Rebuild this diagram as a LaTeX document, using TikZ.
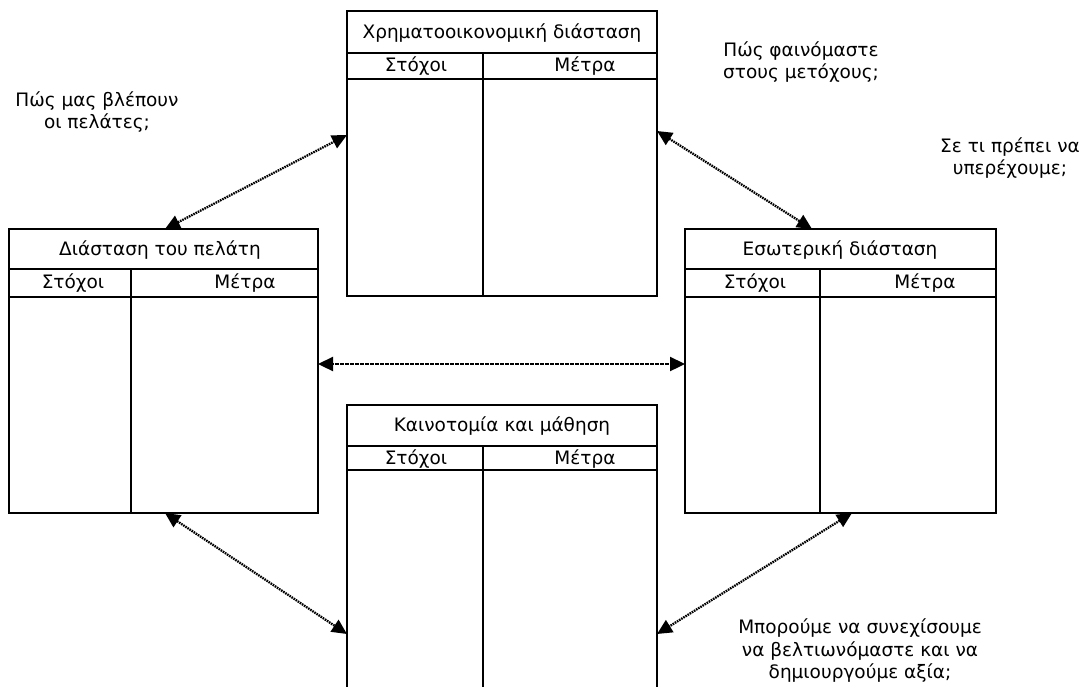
\documentclass[tikz,border=0pt]{standalone}
\usepackage{fontspec}
\setmainfont{DejaVu Sans}
\usetikzlibrary{arrows.meta,calc}
\tikzset{
  box/.style={draw,line width=1.5pt,inner sep=0pt,outer sep=0pt,anchor=north west},
  rule/.style={line width=1.5pt},
  lbl/.style={inner sep=0pt,font=\fontsize{18.5}{21}\selectfont},
  note/.style={inner sep=0pt,align=center,font=\fontsize{18.5}{22.5}\selectfont},
  link/.style={line width=2.3pt,dash pattern=on 1.6pt off 0.9pt,
    {Triangle[length=15pt,width=14pt]}-{Triangle[length=15pt,width=14pt]}},
}
\begin{document}
\begin{tikzpicture}[x=1pt,y=-1pt]
\clip (0,0) rectangle (1081,686);
\useasboundingbox (0,0) rectangle (1081,686);
% Top box: Finance
\node[box,minimum width=310pt,minimum height=285pt] (fin) at (347,11) {};
\draw[rule] (347,53) -- (657,53);
\draw[rule] (347,79) -- (657,79);
\draw[rule] (483,53) -- (483,296);
\node[lbl] (finT) at (502,33) {Χρηματοοικονομική διάσταση};
\node[lbl] (finS) at (416,66) {Στόχοι};
\node[lbl] (finM) at (585,66) {Μέτρα};
% Left box: Customer
\node[box,minimum width=309pt,minimum height=284pt] (cus) at (9,229) {};
\draw[rule] (9,269) -- (318,269);
\draw[rule] (9,297) -- (318,297);
\draw[rule] (131,269) -- (131,513);
\node[lbl] (cusT) at (160,250) {Διάσταση του πελάτη};
\node[lbl] (cusS) at (73,283) {Στόχοι};
\node[lbl] (cusM) at (245,283) {Μέτρα};
% Right box: Internal
\node[box,minimum width=311pt,minimum height=284pt] (int) at (685,229) {};
\draw[rule] (685,269) -- (996,269);
\draw[rule] (685,297) -- (996,297);
\draw[rule] (820,269) -- (820,513);
\node[lbl] (intT) at (840,250) {Εσωτερική διάσταση};
\node[lbl] (intS) at (755,283) {Στόχοι};
\node[lbl] (intM) at (925,283) {Μέτρα};
% Bottom box: Innovation
\node[box,minimum width=310pt,minimum height=300pt] (inn) at (347,405) {};
\draw[rule] (347,446) -- (657,446);
\draw[rule] (347,470) -- (657,470);
\draw[rule] (483,446) -- (483,705);
\node[lbl] (innT) at (502,426) {Καινοτομία και μάθηση};
\node[lbl] (innS) at (416,459) {Στόχοι};
\node[lbl] (innM) at (585,459) {Μέτρα};
% Notes
\node[note] (n1) at (97,112) {Πώς μας βλέπουν\\οι πελάτες;};
\node[note] (n2) at (801,62) {Πώς φαινόμαστε\\στους μετόχους;};
\node[note] (n3) at (1010,158) {Σε τι πρέπει να\\υπερέχουμε;};
\node[note] (n4) at (860,651) {Μπορούμε να συνεχίσουμε\\να βελτιωνόμαστε και να\\δημιουργούμε αξία;};
% Connector end points
\coordinate (cusTop) at ($(cus.north west)+(156,0)$);
\coordinate (finLeft) at ($(fin.north west)+(0,124)$);
\coordinate (finRight) at ($(fin.north east)+(0,120)$);
\coordinate (intTop) at ($(int.north west)+(127,0)$);
\coordinate (cusRight) at ($(cus.north east)+(0,135)$);
\coordinate (intLeft) at ($(int.north west)+(0,135)$);
\coordinate (cusBot) at ($(cus.south west)+(156,0)$);
\coordinate (innLeft) at ($(inn.north west)+(0,229)$);
\coordinate (intBot) at ($(int.south west)+(167,0)$);
\coordinate (innRight) at ($(inn.north east)+(0,229)$);
\draw[link] (cusTop) -- (finLeft);
\draw[link] (finRight) -- (intTop);
\draw[link] (cusRight) -- (intLeft);
\draw[link] (cusBot) -- (innLeft);
\draw[link] (intBot) -- (innRight);
\end{tikzpicture}
\end{document}
